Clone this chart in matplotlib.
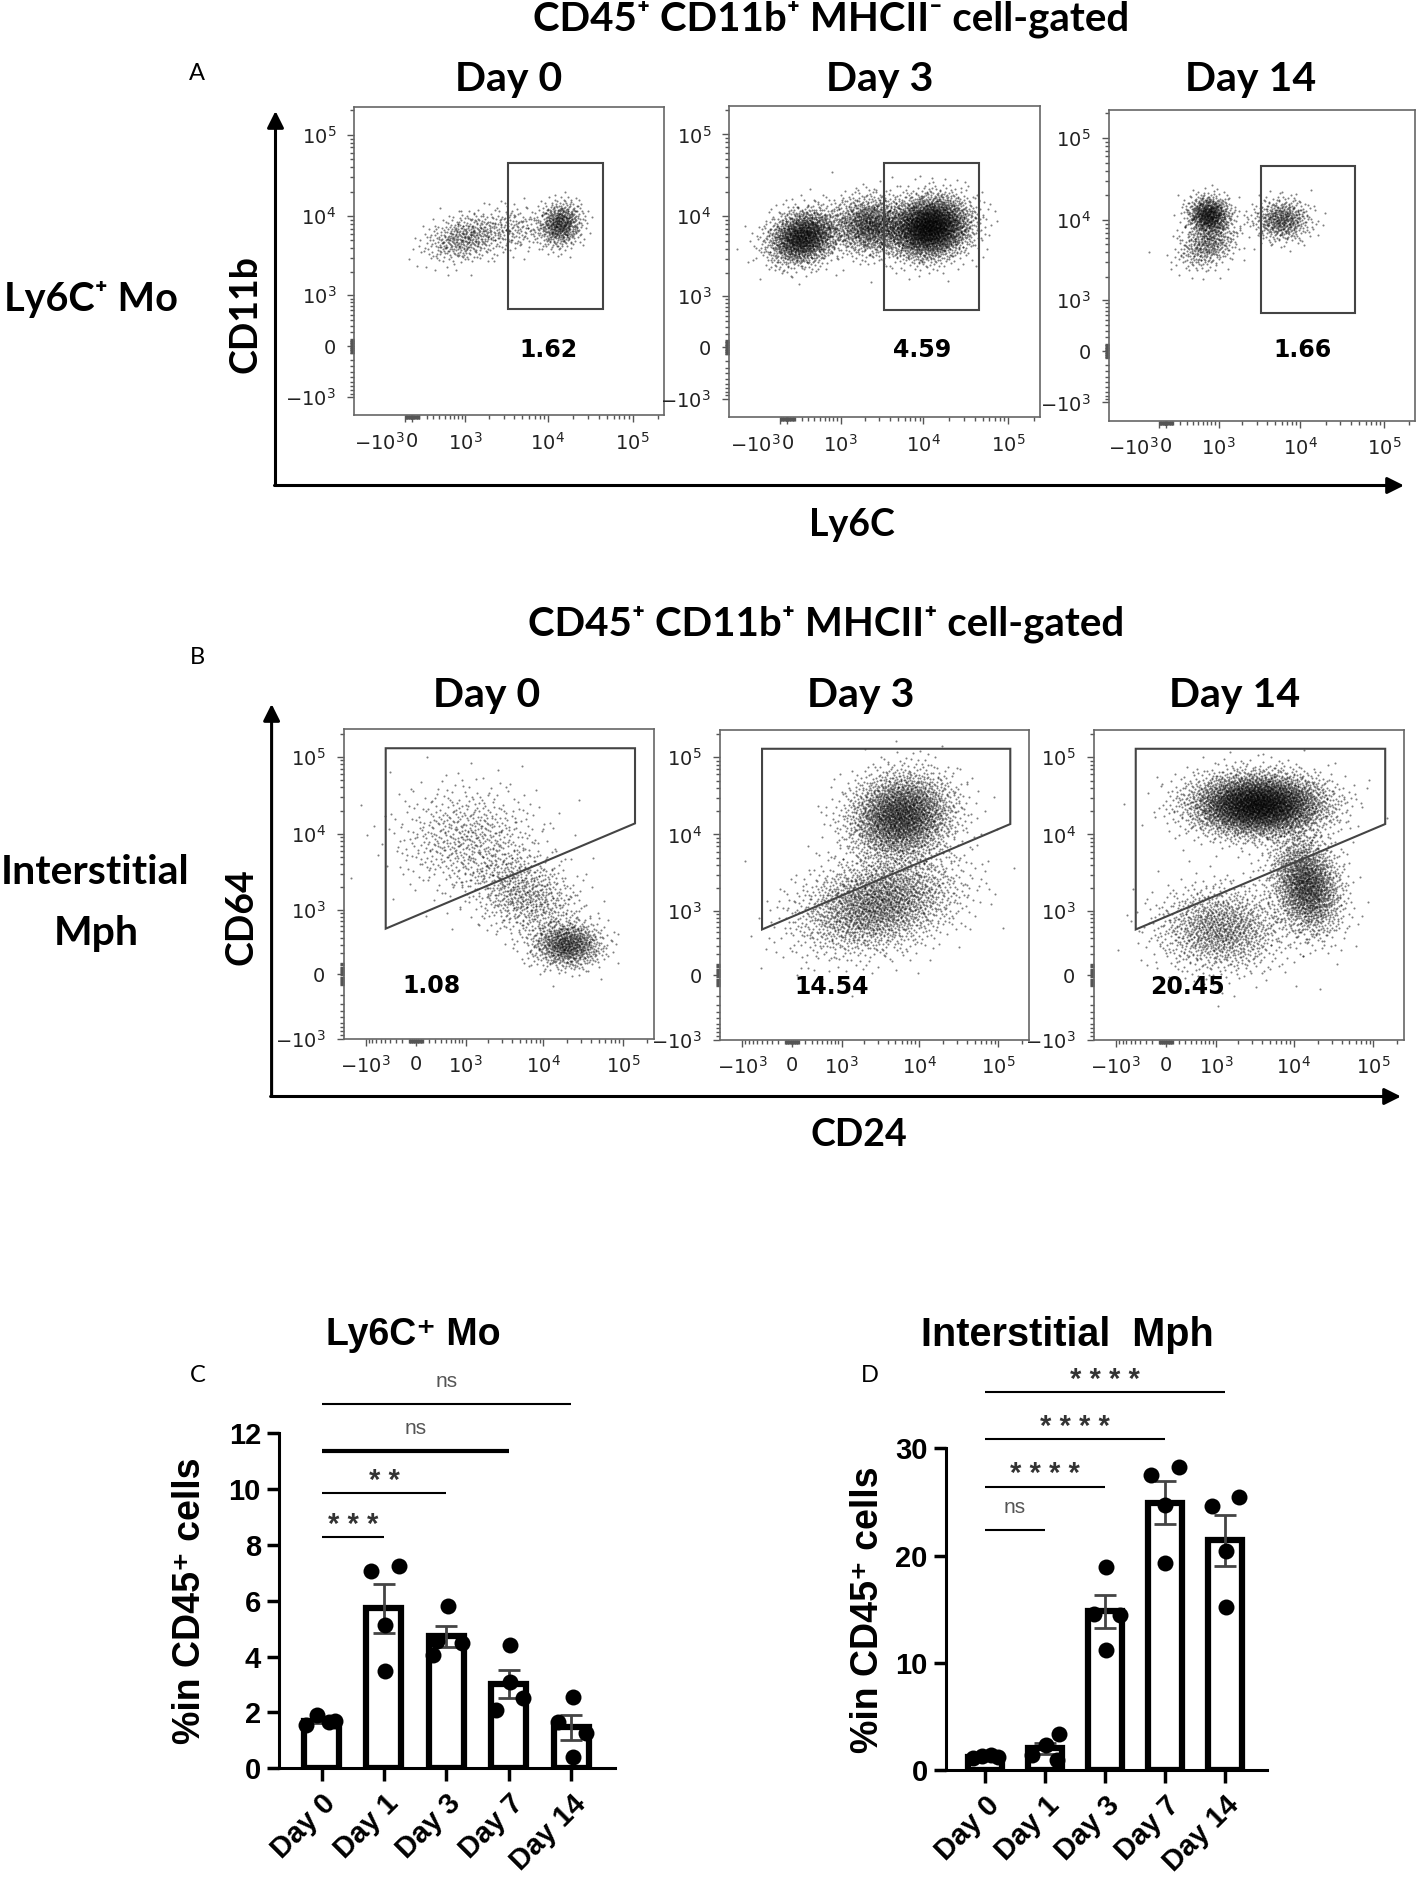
import math
import numpy as np
import matplotlib
matplotlib.use("Agg")
import matplotlib.pyplot as plt
from matplotlib.patches import Polygon

# ---------------- data ----------------
flow_days = ["Day 0", "Day 3", "Day 14"]
mo_gate_pct = ["1.62", "4.59", "1.66"]
mph_gate_pct = ["1.08", "14.54", "20.45"]

# Ly6C+ Mo rectangle gate (Ly6C range, CD11b range)
mo_gate_x = [3400, 45000]
mo_gate_y = [640, 45000]
# interstitial Mph polygon gate (CD24, CD64)
mph_gate = [(-490, 129000), (141000, 129000), (141000, 13650), (-490, 549)]

# event clouds: centre x, centre y, spread x, spread y (display decades), tilt, events
mo_clusters = [
    [(14000, 8000, 0.13, 0.14, 0.1, 550), (1000, 5400, 0.24, 0.15, 0.3, 450),
     (4000, 7000, 0.20, 0.15, 0.0, 150)],
    [(11850, 7400, 0.24, 0.19, 0.1, 2900), (216, 5600, 0.21, 0.17, 0.2, 1600),
     (2300, 7800, 0.22, 0.18, 0.0, 1100)],
    [(730, 11500, 0.13, 0.12, 0.0, 700), (6000, 10000, 0.17, 0.13, 0.0, 500),
     (700, 5000, 0.18, 0.15, 0.3, 400)],
]
mph_clusters = [
    [(20000, 300, 0.22, 0.15, 0.0, 800), (1065, 8650, 0.45, 0.35, 0.0, 600),
     (5900, 1570, 0.35, 0.30, -0.3, 700)],
    [(5880, 17500, 0.33, 0.28, 0.1, 2500), (3000, 1260, 0.50, 0.32, 0.3, 2200)],
    [(3570, 24400, 0.42, 0.20, 0.0, 4200), (14500, 2200, 0.22, 0.32, -0.2, 1700),
     (1160, 560, 0.40, 0.28, 0.0, 1200)],
]

days_bar = ["Day 0", "Day 1", "Day 3", "Day 7", "Day 14"]
mo_pts = [[1.55, 1.9, 1.65, 1.7], [7.06, 7.22, 5.12, 3.5], [5.8, 4.55, 4.5, 4.05],
          [4.4, 3.1, 2.5, 2.1], [2.55, 1.65, 1.25, 0.4]]
mph_pts = [[1.1, 1.3, 1.4, 1.2], [3.4, 2.4, 1.4, 1.0], [18.9, 14.6, 14.5, 11.2],
           [27.5, 28.3, 24.7, 19.3], [24.6, 25.5, 20.4, 15.2]]
mo_sig = [(1, "* * *"), (2, "* *"), (3, "ns"), (4, "ns")]
mph_sig = [(1, "ns"), (2, "* * * *"), (3, "* * * *"), (4, "* * * *")]

# ---------------- layout ----------------
mo_jit = [[-0.25, -0.07, 0.12, 0.22], [-0.21, 0.24, 0.01, 0.01], [0.03, -0.15, 0.25, -0.22],
          [0.02, 0.02, 0.23, -0.2], [0.02, -0.21, 0.24, 0.02]]
mph_jit = [[-0.2, -0.05, 0.1, 0.22], [0.24, 0.02, -0.22, 0.2], [0.02, -0.19, 0.25, 0.02],
           [-0.24, 0.23, 0, 0], [-0.22, 0.24, 0.02, 0.02]]
mo_sig_y = [8.27, 9.85, 11.35, 13.04]
mo_sig_lw = [1.5, 1.5, 3.0, 1.5]
mph_sig_y = [22.4, 26.43, 30.88, 35.25]
mph_sig_lw = [1.5, 1.5, 1.5, 1.5]

mo_boxes = [(354.2, 107.2, 664.2, 415.2), (729.3, 106.4, 1040, 417), (1108.6, 110, 1415.4, 420.7)]
mph_boxes = [(343.5, 729.3, 653.5, 1038.5), (720, 729.8, 1028.7, 1039.5), (1093.5, 729.8, 1403.7, 1039.5)]
mo_title_x = [509, 880, 1251]
mph_title_x = [487, 861, 1234.5]
mo_pct_pos = [(0.625, 0.212), (0.62, 0.215), (0.633, 0.228)]
mph_pct_pos = [(0.284, 0.171), (0.36, 0.17), (0.303, 0.17)]

# axis calibration: linear width, negative compression, frac of 0, frac of 10^5
cal_mo_x = (500, 0.13, 0.187, 0.898)
cal_mo_y = (500, 1.0, 0.224, 0.910)
cal_mph_x = (500, 1.0, 0.233, 0.902)
cal_mph_y = (300, 1.0, 0.197, 0.910)

BIG = ["Lato", "DejaVu Sans"]
plt.rcParams["font.family"] = ["Liberation Sans", "DejaVu Sans"]

W, H = 1417, 1884
fig = plt.figure(figsize=(W / 100, H / 100), dpi=100)
ov = fig.add_axes([0, 0, 1, 1])
ov.set_xlim(0, W)
ov.set_ylim(H, 0)
ov.axis("off")


def px_axes(l, t, r, b):
    return fig.add_axes([l / W, 1 - b / H, (r - l) / W, (b - t) / H])


LN10 = np.log(10)


def biex(w, neg=1.0):
    def fwd(v):
        v = np.asarray(v, dtype=float)
        t = np.arcsinh(v / w) / LN10
        return np.where(v < 0, t * neg, t)

    def inv(t):
        t = np.asarray(t, dtype=float)
        t = np.where(t < 0, t / neg, t)
        return w * np.sinh(t * LN10)
    return fwd, inv


# deterministic (Halton) event positions pushed through the normal quantile
_zg = np.linspace(-4.5, 4.5, 4001)
_cdf = 0.5 * (1 + np.array([math.erf(z / math.sqrt(2)) for z in _zg]))


def halton(n, base, start):
    i = np.arange(start + 1, start + n + 1)
    f, r = 1.0, np.zeros(n)
    while np.any(i > 0):
        f /= base
        r += f * (i % base)
        i = i // base
    return r


def events(cluster, sx_fun, sy_fun, start):
    # clouds are gaussian in display space of each axis
    cx, cy, sx, sy, rho, n = cluster
    fx, ix = sx_fun
    fy, iy = sy_fun
    zx = np.interp(halton(n, 2, start), _cdf, _zg)
    zy = np.interp(halton(n, 3, start), _cdf, _zg)
    zy = rho * zx + np.sqrt(1 - rho ** 2) * zy
    return ix(fx(cx) + sx * zx), iy(fy(cy) + sy * zy)


major = [-1e3, 0, 1e3, 1e4, 1e5]
major_lab = [r"$-10^3$", "0", r"$10^3$", r"$10^4$", r"$10^5$"]
minor = ([s * m * 10 ** k for k in (1, 2) for m in range(1, 10) for s in (1, -1)]
         + [m * 10 ** k for k in (3, 4) for m in range(2, 10)] + [2e5])


def flow_panel(box, cal_x, cal_y, clusters, gate, pct, pct_pos, start):
    ax = px_axes(*box)
    funcs = []
    for axis, cal in ((ax.xaxis, cal_x), (ax.yaxis, cal_y)):
        w, neg, f0, f5 = cal
        fwd, inv = biex(w, neg)
        funcs.append((fwd, inv))
        b = (f5 - f0) / fwd(1e5)
        lims = inv(np.array([-f0 / b, (1 - f0) / b]))
        if axis is ax.xaxis:
            ax.set_xscale("function", functions=(fwd, inv))
            ax.set_xlim(*lims)
        else:
            ax.set_yscale("function", functions=(fwd, inv))
            ax.set_ylim(*lims)
        axis.set_ticks(major, major_lab)
        axis.set_ticks(minor, minor=True)
    if cal_x[1] < 1:
        ax.get_xticklabels()[0].set_ha("right")
    for lab in ax.get_yticklabels() + ax.get_xticklabels():
        lab.set_family("DejaVu Sans")
    ax.tick_params(which="both", direction="out", color="#555555", width=1,
                   labelsize=14, labelcolor="#222222")
    ax.tick_params(which="major", length=5)
    ax.tick_params(which="minor", length=3)
    ax.tick_params(axis="y", pad=8)
    ax.tick_params(axis="x", pad=7)
    for sp in ax.spines.values():
        sp.set_color("#666666")
        sp.set_linewidth(1.2)
    xs, ys = [], []
    for c in clusters:
        ex, ey = events(c, funcs[0], funcs[1], start)
        start += c[5]
        xs.append(ex)
        ys.append(ey)
    ax.scatter(np.concatenate(xs), np.concatenate(ys), s=2.2, c="black",
               linewidths=0, alpha=0.5)
    ax.add_patch(Polygon(gate, closed=True, fill=False, edgecolor="#444444", lw=1.5))
    ax.text(pct_pos[0], pct_pos[1], pct, transform=ax.transAxes, ha="center",
            va="center", fontsize=17, fontweight="bold", family="DejaVu Sans")
    return start


start = 0
mo_rect = [(mo_gate_x[0], mo_gate_y[0]), (mo_gate_x[1], mo_gate_y[0]),
           (mo_gate_x[1], mo_gate_y[1]), (mo_gate_x[0], mo_gate_y[1])]
for i in range(3):
    start = flow_panel(mo_boxes[i], cal_mo_x, cal_mo_y, mo_clusters[i], mo_rect,
                       mo_gate_pct[i], mo_pct_pos[i], start)
    ov.text(mo_title_x[i], 80, flow_days[i], ha="center", va="center",
            fontsize=29.5, fontweight="bold", family=BIG)
for i in range(3):
    start = flow_panel(mph_boxes[i], cal_mph_x, cal_mph_y, mph_clusters[i], mph_gate,
                       mph_gate_pct[i], mph_pct_pos[i], start)
    ov.text(mph_title_x[i], 695, flow_days[i], ha="center", va="center",
            fontsize=29.5, fontweight="bold", family=BIG)

# axis arrows
arrow = dict(arrowstyle="-|>", color="black", lw=2.2, mutation_scale=25, shrinkA=0, shrinkB=0)
ov.annotate("", xy=(275.5, 111), xytext=(275.5, 485.5), arrowprops=arrow)
ov.annotate("", xy=(1404, 485.5), xytext=(274.5, 485.5), arrowprops=arrow)
ov.annotate("", xy=(271.6, 704), xytext=(271.6, 1096.5), arrowprops=arrow)
ov.annotate("", xy=(1401, 1096.5), xytext=(270.6, 1096.5), arrowprops=arrow)

big = dict(ha="center", va="center", fontweight="bold", family=BIG)
ov.text(831, 19, "CD45⁺ CD11b⁺ MHCII⁻ cell-gated", fontsize=29, **big)
ov.text(826, 624, "CD45⁺ CD11b⁺ MHCII⁺ cell-gated", fontsize=29, **big)
ov.text(91, 300, "Ly6C⁺ Mo", fontsize=28.5, **big)
ov.text(95, 872, "Interstitial", fontsize=29.5, **big)
ov.text(96, 933, "Mph", fontsize=29.5, **big)
ov.text(246, 314, "CD11b", rotation=90, fontsize=27, **big)
ov.text(242, 917, "CD64", rotation=90, fontsize=27, **big)
ov.text(851.5, 525, "Ly6C", fontsize=27, **big)
ov.text(858.6, 1135, "CD24", fontsize=27, **big)
for lab, x, y in (("A", 197, 73), ("B", 197, 658), ("C", 198, 1375), ("D", 870, 1375)):
    ov.text(x, y, lab, ha="center", va="center", fontsize=17, family=BIG)


def bar_panel(box, xlim, ymax, yticks, pts, jit, sig, sig_y, sig_lw, label_x):
    ax = px_axes(*box)
    x = np.arange(len(days_bar))
    means = [np.mean(p) for p in pts]
    sems = [np.std(p, ddof=1) / np.sqrt(len(p)) for p in pts]
    ax.bar(x, means, width=0.56, color="white", edgecolor="black", linewidth=4.5, zorder=2)
    ax.errorbar(x, means, yerr=sems, fmt="none", ecolor="#444444", elinewidth=2,
                capsize=8, capthick=2, zorder=3)
    for i in range(len(pts)):
        ax.plot(i + np.array(jit[i]), pts[i], "o", color="black", ms=11.5, mew=0,
                zorder=4, clip_on=False)
    for (j, lab), yv, lw in zip(sig, sig_y, sig_lw):
        ax.plot([0, j], [yv, yv], color="black", lw=lw, clip_on=False, solid_capstyle="butt")
        if lab == "ns":
            ax.annotate(lab, xy=(j / 2, yv), xytext=(0, 12), textcoords="offset points",
                        ha="center", va="baseline", fontsize=15, color="#555555",
                        annotation_clip=False)
        else:
            ax.annotate(lab, xy=(j / 2, yv), xytext=(0, 3), textcoords="offset points",
                        ha="center", va="baseline", fontsize=21, color="#333333",
                        fontweight="bold", annotation_clip=False)
    ax.set_xlim(*xlim)
    ax.set_ylim(0, ymax)
    ax.set_yticks(yticks)
    ax.set_xticks(x, days_bar, rotation=45, ha="right", rotation_mode="anchor")
    ax.spines[["top", "right"]].set_visible(False)
    ax.spines["left"].set_linewidth(2.2)
    ax.spines["bottom"].set_linewidth(2.2)
    ax.tick_params(width=2.5, length=9, labelsize=21)
    ax.tick_params(axis="y", pad=4)
    ax.tick_params(axis="x", pad=6)
    for t in ax.get_xticklabels() + ax.get_yticklabels():
        t.set_fontweight("bold")
    ax.set_ylabel("%in CD45⁺ cells", fontsize=27, fontweight="bold")
    ax.yaxis.set_label_coords(label_x, 0.5)
    ax.patch.set_alpha(0)
    return ax


bar_panel((279, 1432.8, 615, 1768.4), (-0.681, 4.70), 12, range(0, 13, 2),
          mo_pts, mo_jit, mo_sig, mo_sig_y, mo_sig_lw, -0.21)
bar_panel((945.7, 1448.3, 1267, 1770.3), (-0.655, 4.70), 30, range(0, 31, 10),
          mph_pts, mph_jit, mph_sig, mph_sig_y, mph_sig_lw, -0.186)
ov.text(413, 1335, "Ly6C⁺ Mo", ha="center", va="center", fontsize=27, fontweight="bold")
ov.text(1067, 1335, "Interstitial  Mph", ha="center", va="center", fontsize=28.5,
        fontweight="bold")

fig.savefig("out.png", dpi=100)
